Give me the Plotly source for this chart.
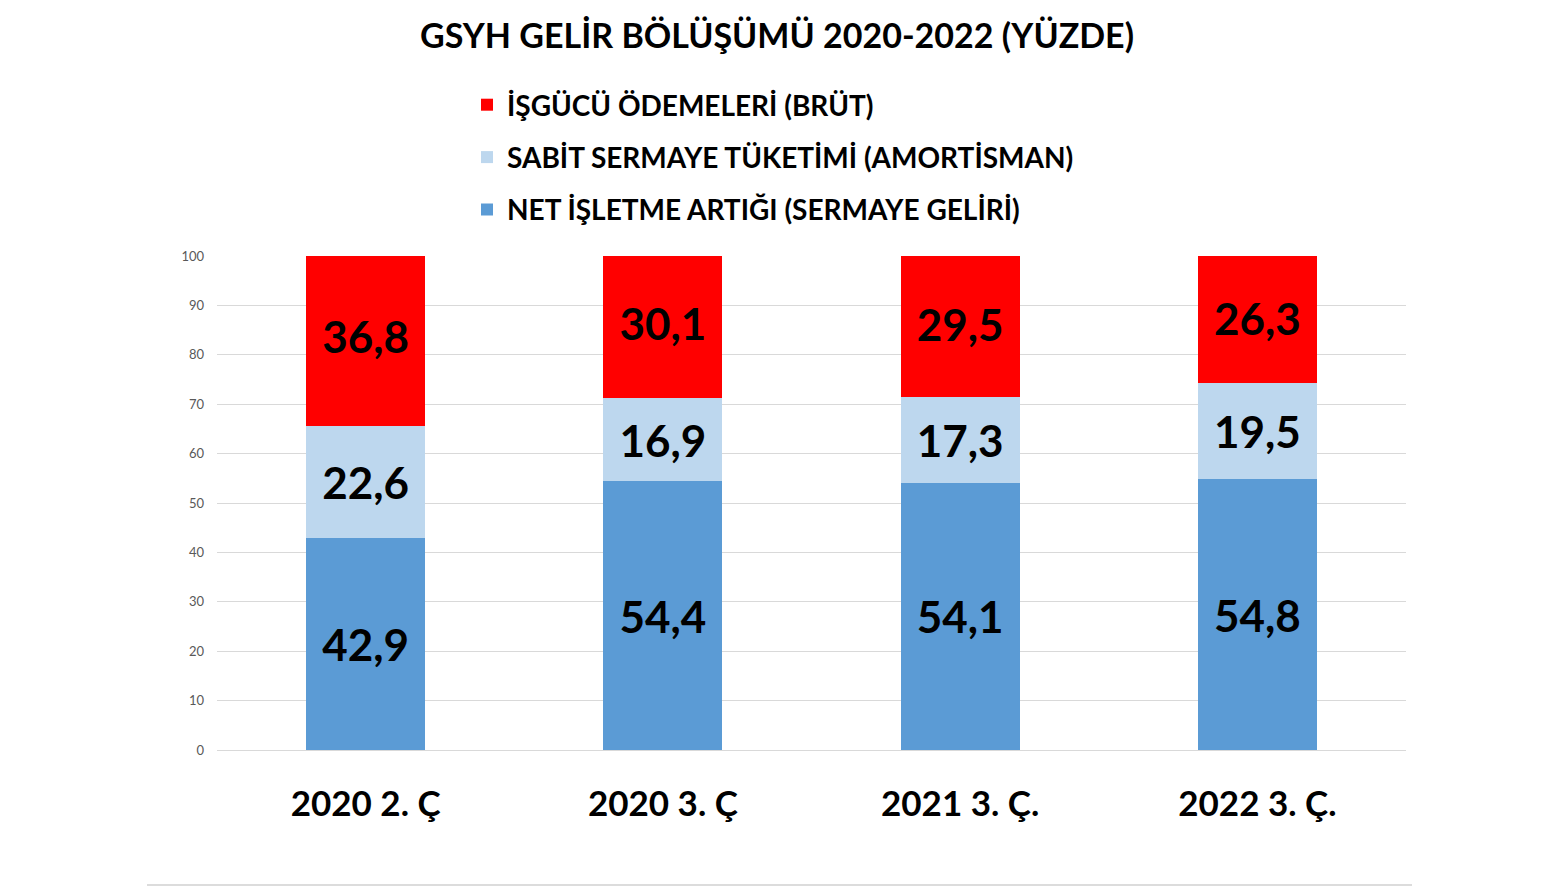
import plotly.graph_objects as go

categories = ["2020 2. Ç", "2020 3. Ç", "2021 3. Ç.", "2022 3. Ç."]
net_isletme = [42.9, 54.4, 54.1, 54.8]
sabit_sermaye = [22.6, 16.9, 17.3, 19.5]
isgucu = [36.8, 30.1, 29.5, 26.3]
y_ticks = [0, 10, 20, 30, 40, 50, 60, 70, 80, 90, 100]

FONT = "Lato"
series = [
    ("NET İŞLETME ARTIĞI (SERMAYE GELİRİ)", net_isletme, "#5B9BD5"),
    ("SABİT SERMAYE TÜKETİMİ (AMORTİSMAN)", sabit_sermaye, "#BDD7EE"),
    ("İŞGÜCÜ ÖDEMELERİ (BRÜT)", isgucu, "#FF0000"),
]

fig = go.Figure()
for i, (name, vals, color) in enumerate(series):
    fig.add_trace(go.Bar(
        x=categories, y=vals, name=name,
        marker=dict(color=color, line=dict(width=0)),
        text=vals, texttemplate="%{y:.1f}",
        textposition="inside", insidetextanchor="middle",
        textfont=dict(family=FONT, size=44, color="#000000", weight="bold"),
        constraintext="none",
        legendgroup=f"g{i}",
        legendrank=3 - i,
        hoverinfo="skip",
    ))

W, H = 1539, 881
L, T, R, B = 209, 248, 141, 139
PW, PH = W - L - R, H - T - B

fig.update_layout(
    barmode="stack",
    bargap=0.6,
    separators=",.",
    width=W, height=H,
    margin=dict(l=L, r=R, t=T, b=B),
    paper_bgcolor="white", plot_bgcolor="white",
    title=dict(text="<b>GSYH GELİR BÖLÜŞÜMÜ 2020-2022 (YÜZDE)</b>",
               x=(777 - 8) / W, xanchor="center", y=1 - (36 - 8) / H, yanchor="middle",
               font=dict(family=FONT, size=34, color="#000000")),
    legend=dict(
        x=(467 - 8 - L) / PW, xanchor="left", y=1 + (T - (80 - 8)) / PH, yanchor="top",
        orientation="v", traceorder="grouped", tracegroupgap=13,
        font=dict(family=FONT, size=28, color="#000000", weight="bold"),
        bgcolor="rgba(0,0,0,0)", itemclick=False,
    ),
    showlegend=True,
)
fig.update_xaxes(
    showgrid=False, showline=False, ticks="",
    tickfont=dict(family=FONT, size=35, color="#000000", weight="bold"),
    ticklabelstandoff=30,
)
fig.update_yaxes(
    range=[0, 100], tickvals=y_ticks,
    showgrid=True, gridcolor="#D9D9D9", gridwidth=1,
    zeroline=True, zerolinecolor="#D9D9D9", zerolinewidth=1,
    showline=False, ticks="",
    tickfont=dict(family=FONT, size=13, color="#595959"),
    ticklabelstandoff=12,
)
fig.add_shape(type="line", xref="paper", yref="paper",
              x0=(147 - 8 - L) / PW, x1=(1412 - 8 - L) / PW,
              y0=-(885 - 750) / PH, y1=-(885 - 750) / PH,
              line=dict(color="#D0D0D0", width=1.5))

fig.write_html("out.html")
